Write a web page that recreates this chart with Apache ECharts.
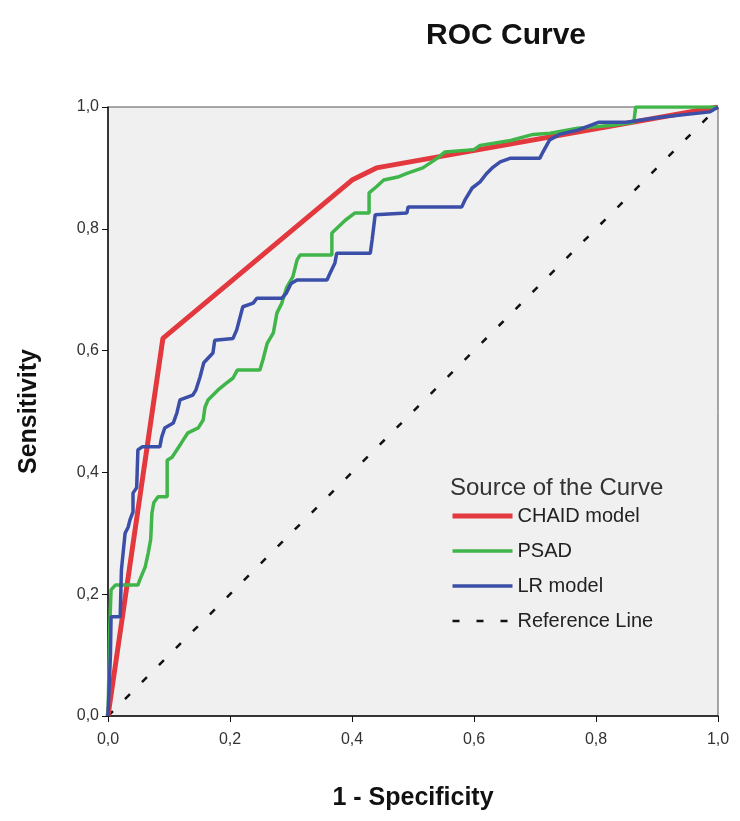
<!DOCTYPE html>
<html>
<head>
<meta charset="utf-8">
<script src="https://cdn.jsdelivr.net/npm/echarts@6/dist/echarts.min.js"></script>
<style>
  html, body { margin: 0; padding: 0; background: #fff; }
  #main { width: 740px; height: 821px; }
</style>
</head>
<body>
<div id="main"></div>
<script>
// ROC points (1 - specificity, sensitivity)
var chaidFpr = [0, 0.09, 0.40, 0.44, 1];
var chaidTpr = [0, 0.62, 0.88, 0.90, 1];

var psadFpr = [0, 0.003, 0.005, 0.012, 0.049, 0.052, 0.061, 0.066, 0.07, 0.072, 0.075, 0.082, 0.097, 0.097,
  0.105, 0.12, 0.131, 0.148, 0.156, 0.159, 0.164, 0.18, 0.192, 0.205, 0.212, 0.249, 0.254, 0.261, 0.271,
  0.277, 0.285, 0.293, 0.303, 0.31, 0.315, 0.367, 0.367, 0.389, 0.405, 0.428, 0.428, 0.44, 0.452, 0.475,
  0.49, 0.516, 0.54, 0.552, 0.6, 0.61, 0.66, 0.697, 0.725, 0.77, 0.827, 0.862, 0.865, 1];
var psadTpr = [0, 0.15, 0.207, 0.215, 0.215, 0.223, 0.245, 0.268, 0.29, 0.333, 0.35, 0.36, 0.36, 0.42,
  0.425, 0.448, 0.465, 0.473, 0.486, 0.507, 0.519, 0.535, 0.545, 0.555, 0.568, 0.568, 0.585, 0.612, 0.629,
  0.662, 0.678, 0.704, 0.721, 0.749, 0.757, 0.757, 0.793, 0.814, 0.826, 0.826, 0.859, 0.869, 0.88, 0.885,
  0.891, 0.90, 0.916, 0.926, 0.93, 0.937, 0.945, 0.955, 0.957, 0.965, 0.97, 0.975, 1.0, 1];

var lrFpr = [0, 0.004, 0.005, 0.02, 0.022, 0.025, 0.028, 0.033, 0.036, 0.041, 0.041, 0.047, 0.049, 0.056,
  0.085, 0.088, 0.093, 0.107, 0.113, 0.118, 0.139, 0.144, 0.151, 0.157, 0.172, 0.175, 0.205, 0.211, 0.221,
  0.238, 0.244, 0.285, 0.292, 0.3, 0.31, 0.359, 0.364, 0.372, 0.375, 0.43, 0.433, 0.438, 0.49, 0.492,
  0.58, 0.585, 0.597, 0.61, 0.62, 0.631, 0.643, 0.66, 0.708, 0.713, 0.724, 0.74, 0.77, 0.805, 0.85,
  0.905, 0.987, 1];
var lrTpr = [0, 0.1, 0.163, 0.163, 0.24, 0.24, 0.30, 0.31, 0.322, 0.335, 0.366, 0.375, 0.437, 0.442,
  0.442, 0.458, 0.473, 0.481, 0.498, 0.519, 0.527, 0.535, 0.557, 0.58, 0.596, 0.617, 0.62, 0.634, 0.672,
  0.678, 0.686, 0.686, 0.694, 0.71, 0.716, 0.716, 0.727, 0.744, 0.76, 0.76, 0.782, 0.823, 0.826, 0.836,
  0.836, 0.847, 0.867, 0.877, 0.89, 0.901, 0.91, 0.916, 0.916, 0.926, 0.946, 0.955, 0.962, 0.975, 0.975,
  0.983, 0.992, 1];

var refFpr = [0, 1];
var refTpr = [0, 1];

var seriesNames = ['CHAID model', 'PSAD', 'LR model', 'Reference Line'];
var seriesColors = ['#e2383e', '#40b54a', '#3b4ea8', '#111111'];
var lineWidths = [5, 3.5, 3.5, 2.5];

function zip(xs, ys) {
  return xs.map(function (x, i) { return [x, ys[i]]; });
}
function fmt(v) {
  return v.toFixed(1).replace('.', ',');
}

var font = "'Liberation Sans', Arial, sans-serif";
var chart = echarts.init(document.getElementById('main'));

var dash = [7, 17];

var option = {
  backgroundColor: '#ffffff',
  animation: false,
  title: [{
    text: 'ROC Curve',
    left: 421,
    top: 16,
    textStyle: { fontFamily: font, fontSize: 30, fontWeight: 'bold', color: '#111' }
  }, {
    text: 'Source of the Curve',
    left: 445,
    top: 471,
    textStyle: { fontFamily: font, fontSize: 24, fontWeight: 'normal', color: '#333' }
  }],
  legend: {
    orient: 'vertical',
    left: 445,
    top: 499,
    itemWidth: 60,
    itemHeight: 14,
    itemGap: 11,
    itemStyle: { opacity: 0 },
    data: seriesNames.map(function (n, i) {
      return {
        name: n,
        lineStyle: { color: seriesColors[i], width: lineWidths[i], type: i === 3 ? dash : 'solid' }
      };
    }),
    textStyle: { fontFamily: font, fontSize: 20, color: '#222', lineHeight: 24 }
  },
  grid: {
    left: 108,
    right: 22,
    top: 107,
    bottom: 105,
    show: true,
    backgroundColor: '#f0f0f0',
    borderColor: '#555',
    borderWidth: 1
  },
  xAxis: {
    type: 'value',
    min: 0,
    max: 1,
    interval: 0.2,
    name: '1 - Specificity',
    nameLocation: 'middle',
    nameGap: 70,
    nameTextStyle: { fontFamily: font, fontSize: 25, fontWeight: 'bold', color: '#111' },
    axisLine: { lineStyle: { color: '#111', width: 1.5 } },
    axisTick: { show: true, inside: false, length: 6, lineStyle: { color: '#111' } },
    axisLabel: {
      fontFamily: font, fontSize: 16, color: '#333', margin: 16,
      formatter: function (v) { return fmt(v); }
    },
    splitLine: { show: false }
  },
  yAxis: {
    type: 'value',
    min: 0,
    max: 1,
    interval: 0.2,
    name: 'Sensitivity',
    nameLocation: 'middle',
    nameGap: 66,
    nameTextStyle: { fontFamily: font, fontSize: 25, fontWeight: 'bold', color: '#111' },
    axisLine: { lineStyle: { color: '#111', width: 1.5 } },
    axisTick: { show: true, inside: false, length: 6, lineStyle: { color: '#111' } },
    axisLabel: {
      fontFamily: font, fontSize: 16, color: '#333', margin: 9,
      formatter: function (v) { return fmt(v); }
    },
    splitLine: { show: false }
  },
  series: [{
    name: 'CHAID model',
    type: 'line',
    symbol: 'none',
    z: 3,
    color: seriesColors[0],
    lineStyle: { color: seriesColors[0], width: lineWidths[0] },
    data: zip(chaidFpr, chaidTpr)
  }, {
    name: 'PSAD',
    type: 'line',
    symbol: 'none',
    z: 4,
    color: seriesColors[1],
    lineStyle: { color: seriesColors[1], width: lineWidths[1] },
    data: zip(psadFpr, psadTpr)
  }, {
    name: 'LR model',
    type: 'line',
    symbol: 'none',
    z: 5,
    color: seriesColors[2],
    lineStyle: { color: seriesColors[2], width: lineWidths[2] },
    data: zip(lrFpr, lrTpr)
  }, {
    name: 'Reference Line',
    type: 'line',
    symbol: 'none',
    z: 2,
    color: seriesColors[3],
    lineStyle: { color: seriesColors[3], width: lineWidths[3], type: dash },
    data: zip(refFpr, refTpr)
  }]
};

chart.setOption(option);
</script>
</body>
</html>
